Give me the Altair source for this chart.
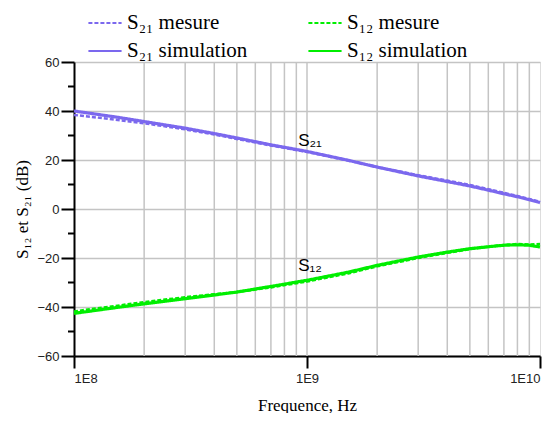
import altair as alt
import pandas as pd

# ---- data ----
freqs = [1e8, 1.5e8, 2e8, 3e8, 4e8, 5e8, 7e8, 1e9, 1.5e9, 2e9, 3e9, 4e9, 5e9, 6e9, 7e9, 8e9, 9e9, 1e10]
s21_sim = [40.0, 37.6, 35.7, 33.0, 30.8, 29.0, 26.2, 23.5, 19.9, 17.1, 13.5, 11.2, 9.4, 7.7, 6.2, 5.0, 3.8, 2.6]
s21_meas = [38.4, 36.5, 35.0, 32.5, 30.4, 28.6, 25.9, 23.3, 19.8, 17.2, 13.8, 11.6, 9.8, 8.1, 6.6, 5.3, 4.1, 2.9]
s12_sim = [-42.6, -40.3, -38.7, -36.6, -35.1, -33.9, -31.6, -29.1, -25.8, -23.0, -19.6, -17.6, -16.2, -15.4, -14.8, -14.6, -14.8, -15.5]
s12_meas = [-41.8, -39.6, -38.0, -36.0, -34.8, -33.9, -32.0, -29.6, -26.3, -23.4, -20.0, -17.9, -16.4, -15.4, -14.7, -14.3, -14.5, -14.3]

# legend is filled column by column
series_labels = ["S₂₁ mesure", "S₂₁ simulation", "S₁₂ mesure", "S₁₂ simulation"]
series_colors = ["#7b68ee", "#7b68ee", "#00ee00", "#00ee00"]
series_dash = [[4, 2], [1, 0], [4, 2], [1, 0]]

x_major = [1e8, 1e9, 1e10]
x_grid = [2e8, 3e8, 4e8, 5e8, 6e8, 7e8, 8e8, 9e8, 1e9,
          2e9, 3e9, 4e9, 5e9, 6e9, 7e9, 8e9, 9e9]
y_major = [-60, -40, -20, 0, 20, 40, 60]
y_minor = [-50, -30, -10, 10, 30, 50]

annot_text = ["S₂₁", "S₁₂"]
annot_freq = [1.03e9, 1.03e9]
annot_db = [27.9, -23.4]

# ---- tables ----
meas = pd.DataFrame({
    "f": freqs * 2,
    "db": s21_meas + s12_meas,
    "label": [series_labels[0]] * len(freqs) + [series_labels[2]] * len(freqs),
})
sim = pd.DataFrame({
    "f": freqs * 2,
    "db": s21_sim + s12_sim,
    "label": [series_labels[1]] * len(freqs) + [series_labels[3]] * len(freqs),
})
grid_df = pd.DataFrame({"f": x_grid})
minor_df = pd.DataFrame({"db": y_minor})
annot_df = pd.DataFrame({"t": annot_text, "f": annot_freq, "db": annot_db})

xscale = alt.Scale(type="log", domain=[1e8, 1e10], nice=False)
yscale = alt.Scale(domain=[-60, 60], nice=False, zero=False)

x_axis = alt.Axis(
    values=x_major, grid=False, tickSize=12, tickWidth=2, tickColor="black",
    domainColor="black", domainWidth=2,
    labelExpr="'1E' + round(log(datum.value)/LN10)",
    labelFont="Liberation Sans", labelFontSize=13, labelColor="#222", labelPadding=4,
    title="Frequence, Hz", titleFont="Liberation Serif", titleFontSize=17,
    titleFontWeight="normal", titleColor="black", titlePadding=12,
)
y_axis = alt.Axis(
    values=y_major, grid=True, gridColor="#c4c4c4", gridWidth=1.5,
    tickSize=13, tickWidth=2, tickColor="black",
    domainColor="black", domainWidth=2,
    labelFont="Liberation Sans", labelFontSize=13, labelColor="#222", labelPadding=2,
    title="S₁₂ et S₂₁ (dB)", titleFont="Liberation Serif", titleFontSize=17,
    titleFontWeight="normal", titleColor="black", titlePadding=5,
)

color_scale = alt.Scale(domain=series_labels, range=series_colors)
dash_scale = alt.Scale(domain=series_labels, range=series_dash)
legend = alt.Legend(
    title=None, orient="none", legendX=13, legendY=-57, columns=2,
    symbolType="stroke", symbolSize=1100, symbolStrokeWidth=2,
    labelFont="Liberation Serif", labelFontSize=21, labelColor="black",
    labelOffset=4, columnPadding=56, rowPadding=-1, labelLimit=300,
)

vgrid = alt.Chart(grid_df).mark_rule(color="#c4c4c4", strokeWidth=1.5).encode(
    x=alt.X("f:Q", scale=xscale, axis=x_axis)
)
minor_ticks = alt.Chart(minor_df).mark_rule(color="black", strokeWidth=2).encode(
    y=alt.Y("db:Q", scale=yscale, axis=y_axis),
    x=alt.value(-6), x2=alt.value(0),
)

meas_lines = alt.Chart(meas).mark_line(strokeWidth=2.5).encode(
    x=alt.X("f:Q", scale=xscale, axis=x_axis),
    y=alt.Y("db:Q", scale=yscale, axis=y_axis),
    color=alt.Color("label:N", scale=color_scale, legend=legend, sort=series_labels),
    strokeDash=alt.StrokeDash("label:N", scale=dash_scale, legend=legend, sort=series_labels),
)
sim_lines = alt.Chart(sim).mark_line(strokeWidth=3.2).encode(
    x=alt.X("f:Q", scale=xscale, axis=x_axis),
    y=alt.Y("db:Q", scale=yscale, axis=y_axis),
    color=alt.Color("label:N", scale=color_scale, legend=legend, sort=series_labels),
    strokeDash=alt.StrokeDash("label:N", scale=dash_scale, legend=legend, sort=series_labels),
)
annots = alt.Chart(annot_df).mark_text(
    font="Liberation Sans", fontSize=17, color="black", baseline="middle", align="center"
).encode(
    x=alt.X("f:Q", scale=xscale, axis=x_axis),
    y=alt.Y("db:Q", scale=yscale, axis=y_axis),
    text="t:N",
)

chart = alt.layer(vgrid, minor_ticks, meas_lines, sim_lines, annots).properties(
    width=466, height=294,
    autosize=alt.AutoSizeParams(type="none"),
    padding={"left": 66, "top": 54, "right": 10, "bottom": 57},
).configure_view(stroke="black", strokeWidth=2).configure(background="white")

chart.save("out.html", embed_options={"renderer": "svg", "actions": False})
